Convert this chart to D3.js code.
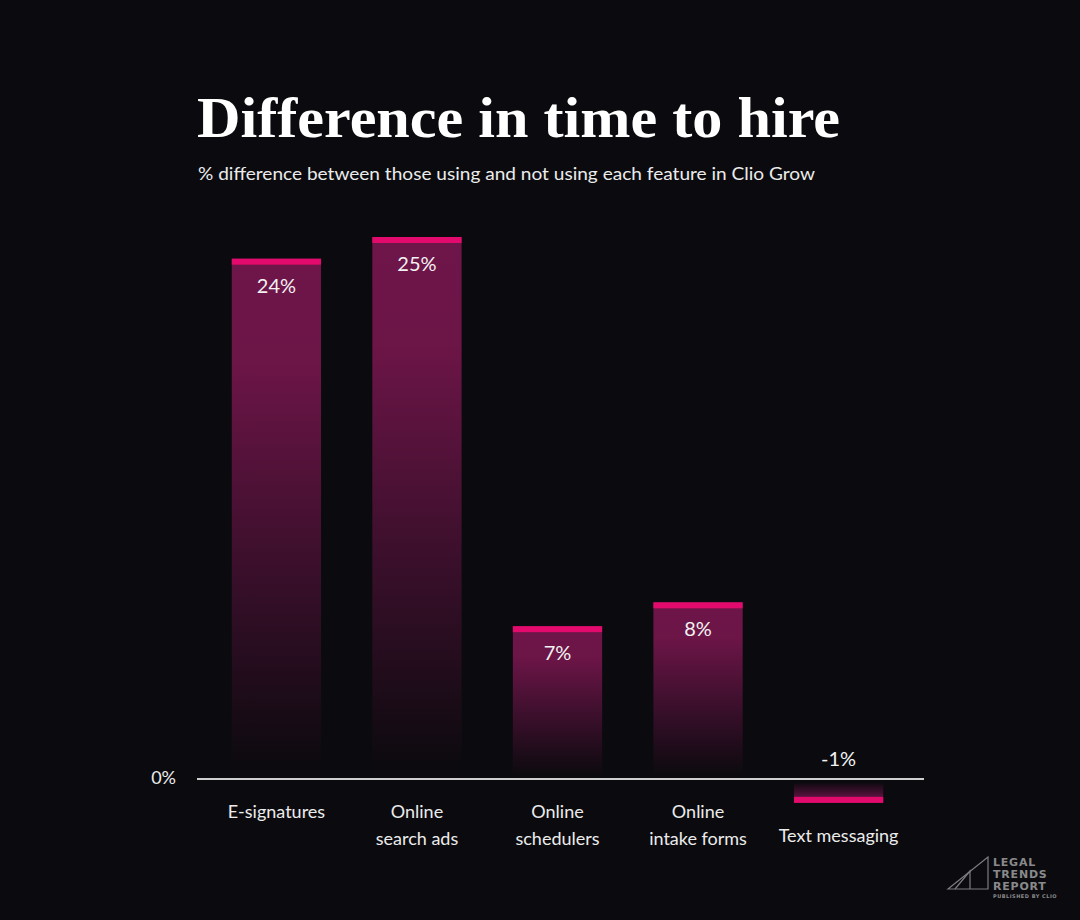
<!DOCTYPE html>
<html>
<head>
<meta charset="utf-8">
<script src="https://cdn.jsdelivr.net/npm/d3@7"></script>
<style>
  body { margin: 0; background: #0b0b0f; }
  svg { display: block; }
</style>
</head>
<body>
<script>
// data
var categories = ["E-signatures", "Online\nsearch ads", "Online\nschedulers", "Online\nintake forms", "Text messaging"];
var values = [24, 25, 7.05, 8.15, -1.1];
var labels = ["24%", "25%", "7%", "8%", "-1%"];

var width = 1080, height = 920;

var svg = d3.select("body").append("svg")
    .attr("width", width)
    .attr("height", height);

svg.append("rect")
    .attr("width", width)
    .attr("height", height)
    .attr("fill", "#0b0b0f");

var defs = svg.append("defs");

// fade for bars going up
var gradUp = defs.append("linearGradient")
    .attr("id", "fadeUp")
    .attr("x1", 0).attr("y1", 0).attr("x2", 0).attr("y2", 1);
gradUp.append("stop").attr("offset", "0").attr("stop-color", "#6e1549");
gradUp.append("stop").attr("offset", "0.2").attr("stop-color", "#6c1547");
gradUp.append("stop").attr("offset", "0.6").attr("stop-color", "#3a0f2b");
gradUp.append("stop").attr("offset", "0.97").attr("stop-color", "#0d0a0f");

// fade for bars going down
var gradDown = defs.append("linearGradient")
    .attr("id", "fadeDown")
    .attr("x1", 0).attr("y1", 1).attr("x2", 0).attr("y2", 0);
gradDown.append("stop").attr("offset", "0").attr("stop-color", "#7a1652");
gradDown.append("stop").attr("offset", "1").attr("stop-color", "#0f0a10");

var x = d3.scaleBand()
    .domain(categories)
    .range([206.5, 908.5])
    .paddingInner(0.365)
    .paddingOuter(0.18);

var y = d3.scaleLinear()
    .domain([0, 25])
    .range([779, 237]);

// title block
svg.append("text")
    .attr("x", 197)
    .attr("y", 137)
    .attr("fill", "#ffffff")
    .style("font-family", "'Liberation Serif', 'DejaVu Serif', serif")
    .style("font-weight", "bold")
    .style("font-size", "58px")
    .attr("textLength", 643)
    .attr("lengthAdjust", "spacingAndGlyphs")
    .text("Difference in time to hire");

svg.append("text")
    .attr("x", 198)
    .attr("y", 180)
    .attr("fill", "#ececec")
    .style("font-family", "Lato, 'Noto Sans', sans-serif")
    .style("font-size", "18px")
    .attr("textLength", 617)
    .attr("lengthAdjust", "spacingAndGlyphs")
    .text("% difference between those using and not using each feature in Clio Grow");

var bars = svg.append("g").selectAll("g")
    .data(categories)
    .join("g");

bars.append("rect")
    .attr("x", function(d) { return x(d); })
    .attr("width", x.bandwidth())
    .attr("y", function(d, i) { return values[i] >= 0 ? y(values[i]) : y(0) + 4; })
    .attr("height", function(d, i) { return values[i] >= 0 ? y(0) - y(values[i]) : y(values[i]) - y(0) - 4; })
    .attr("fill", function(d, i) { return values[i] >= 0 ? "url(#fadeUp)" : "url(#fadeDown)"; });

// bright cap at the end of each bar
bars.append("rect")
    .attr("x", function(d) { return x(d); })
    .attr("width", x.bandwidth())
    .attr("y", function(d, i) { return values[i] >= 0 ? y(values[i]) : y(values[i]) - 6; })
    .attr("height", 6)
    .attr("fill", "#e20a6c");

bars.append("text")
    .attr("x", function(d) { return x(d) + x.bandwidth() / 2; })
    .attr("y", function(d, i) { return values[i] >= 0 ? y(values[i]) + 34 : y(0) - 13; })
    .attr("text-anchor", "middle")
    .attr("fill", "#f2f2f2")
    .style("font-family", "Lato, 'Noto Sans', sans-serif")
    .style("font-size", "20px")
    .text(function(d, i) { return labels[i]; });

// category labels, below the bar for the negative one
bars.append("text")
    .attr("text-anchor", "middle")
    .attr("fill", "#ececec")
    .style("font-family", "Lato, 'Noto Sans', sans-serif")
    .style("font-size", "18px")
    .attr("transform", function(d, i) {
        var base = values[i] >= 0 ? 818 : 842;
        return "translate(" + (x(d) + x.bandwidth() / 2) + "," + base + ")";
    })
    .selectAll("tspan")
    .data(function(d) { return d.split("\n"); })
    .join("tspan")
    .attr("x", 0)
    .attr("dy", function(d, i) { return i === 0 ? 0 : 27; })
    .text(function(d) { return d; });

// zero line
svg.append("line")
    .attr("x1", 197)
    .attr("x2", 924)
    .attr("y1", y(0))
    .attr("y2", y(0))
    .attr("stroke", "#cfcfcf")
    .attr("stroke-width", 2);

svg.append("text")
    .attr("x", 176)
    .attr("y", y(0) + 5)
    .attr("text-anchor", "end")
    .attr("fill", "#ececec")
    .style("font-family", "Lato, 'Noto Sans', sans-serif")
    .style("font-size", "18px")
    .text("0%");

// logo
var logo = svg.append("g").attr("fill", "none").attr("stroke", "#7d7d80").attr("stroke-width", 1.2);
logo.append("path").attr("d", "M948,889 L988,857 L988,889 Z");
logo.append("path").attr("d", "M955,889 L970,871 L970,889");

var logoText = svg.append("g")
    .attr("fill", "#8a8a8c")
    .style("font-family", "'DejaVu Sans', sans-serif")
    .style("font-weight", "bold");
["LEGAL", "TRENDS", "REPORT"].forEach(function(t, i) {
    logoText.append("text")
        .attr("x", 993)
        .attr("y", 866 + i * 12)
        .style("font-size", "11px")
        .style("letter-spacing", "0.8px")
        .text(t);
});
logoText.append("text")
    .attr("x", 993)
    .attr("y", 898)
    .style("font-size", "5px")
    .style("letter-spacing", "0.5px")
    .text("PUBLISHED BY CLIO");
</script>
</body>
</html>
